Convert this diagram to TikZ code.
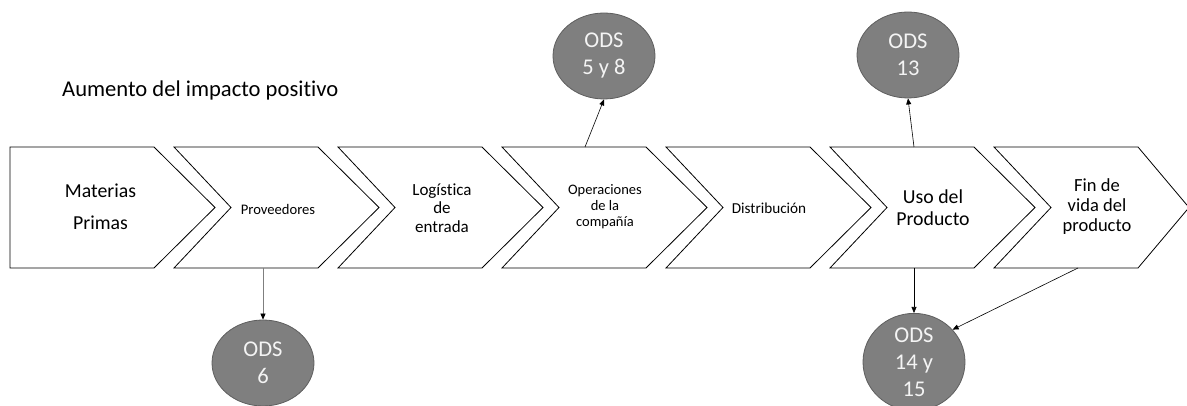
\documentclass[tikz,border=0pt]{standalone}
\usepackage{fontspec}
\setmainfont{Carlito}[Ligatures=CommonOff]
\usetikzlibrary{arrows.meta,shapes.geometric}
\definecolor{odsfill}{HTML}{7F7F7F}
\definecolor{odsedge}{HTML}{5E5E5E}
\definecolor{odstext}{HTML}{F4F4F4}
\definecolor{connline}{HTML}{7F7F7F}

\begin{document}
\begin{tikzpicture}[x=1pt,y=-1pt,
  chev/.style={draw=black,line width=0.8pt,line join=miter,fill=white},
  lbl/.style={align=center,inner sep=0pt,text=black},
  ods/.style={ellipse,draw=odsedge,line width=0.8pt,fill=odsfill,text=odstext,
    minimum width=102pt,minimum height=86pt,inner sep=0pt,align=center,
    font=\fontsize{22.5}{27}\selectfont},
  conn/.style={line width=0.6pt,draw=black,-{Triangle[length=6pt,width=5pt]}},
  conngray/.style={conn,draw=connline,-{Triangle[length=6pt,width=5pt,color=black]}}]

\useasboundingbox (0,0) rectangle (1187,406);
\clip (0,0) rectangle (1187,406);

% heading
\node[anchor=base west,inner sep=0pt,font=\fontsize{22.6}{26}\selectfont] (title) at (62,97) {Aumento del impacto positivo};

% value chain: first block has a flat left side, the others are notched
\path[chev] (10,147) -- (154,147) -- (215,207.5) -- (154,268) -- (10,268) -- cycle;
\foreach \l in {174,338,502,666,830}{
  \path[chev] (\l,147) -- ({\l+144},147) -- ({\l+205},207.5) -- ({\l+144},268)
    -- (\l,268) -- ({\l+57},207.5) -- cycle;
}
\path[chev] (994,147) -- (1138,147) -- (1189,207.5) -- (1138,268) -- (994,268) -- (1051,207.5) -- cycle;

% block labels
\node[lbl,font=\fontsize{19.8}{32}\selectfont] (mat) at (100.5,207) {Materias\\Primas};
\node[lbl,font=\fontsize{14.6}{17}\selectfont] (prov) at (278,209) {Proveedores};
\node[lbl,font=\fontsize{17}{18.5}\selectfont] (log) at (442,208) {Logística\\de\\entrada};
\node[lbl,font=\fontsize{14.5}{16}\selectfont] (oper) at (605,207) {Operaciones\\de la\\compañía};
\node[lbl,font=\fontsize{15.2}{18}\selectfont] (dist) at (769,208) {Distribución};
\node[lbl,font=\fontsize{19.8}{22}\selectfont] (uso) at (933,208) {Uso del\\Producto};
\node[lbl,font=\fontsize{18.5}{20}\selectfont] (fin) at (1097,207) {Fin de\\vida del\\producto};

% connection points on the block outlines
\coordinate (prov-s) at (263,268);
\coordinate (oper-n) at (585,147);
\coordinate (uso-n) at (914,147);
\coordinate (uso-s) at (914,268);
\coordinate (fin-s) at (1078,268);

% goals
\node[ods] (ods58) at (604,56) {ODS\\5 y 8};
\node[ods] (ods13) at (908,55) {ODS\\13};
\node[ods] (ods6) at (263,363) {ODS\\6};
\node[ods] (ods1415) at (914,362) {ODS\\14 y\\15};

% connectors
\draw[conngray] (prov-s) -- (ods6.north);
\draw[conn] (oper-n) -- (ods58.south);
\draw[conn] (uso-n) -- (ods13.south);
\draw[conn] (uso-s) -- (ods1415.north);
\draw[conn] (fin-s) -- (ods1415.40);
\end{tikzpicture}
\end{document}
